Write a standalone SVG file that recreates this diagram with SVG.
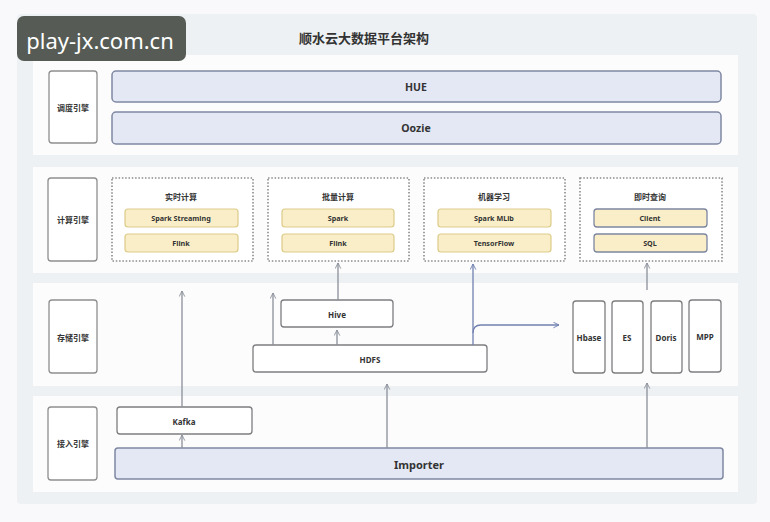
<svg xmlns="http://www.w3.org/2000/svg" width="770" height="522" viewBox="0 0 770 522">
<defs>
<style>
text{font-family:"Noto Sans","Noto Sans CJK SC",sans-serif;font-weight:bold;fill:#333;text-anchor:middle;dominant-baseline:central}
.lbl{fill:#fff;stroke:#8e8e8e;stroke-width:1.3}
.blue{fill:#e3e8f4;stroke:#7f88a3;stroke-width:1.5}
.white{fill:#fff;stroke:#7d7d80;stroke-width:1.3}
.grp{fill:#fff;stroke:#8a8a8a;stroke-width:1.6;stroke-dasharray:1.5 1.8}
.yel{fill:#f9eec8;stroke:#ddcb8a;stroke-width:1.2}
.yelb{fill:#f9eec8;stroke:#7d86a0;stroke-width:1.3}
.band{fill:#fcfcfd}
.s8{font-size:8px}
.s7{font-size:7.2px}
.conn line,.conn path{stroke:#8a8f99;stroke-width:1.3;fill:none;marker-end:url(#ah)}
.conn .bl{stroke:#7080b0;marker-end:url(#ahb)}
</style>
<marker id="ah" viewBox="0 0 10 10" refX="9" refY="5" markerWidth="7" markerHeight="7" orient="auto" markerUnits="userSpaceOnUse"><path d="M1,1 L9,5 L1,9" fill="none" stroke="#8a8f99" stroke-width="1.3"/></marker>
<marker id="ahb" viewBox="0 0 10 10" refX="9" refY="5" markerWidth="7" markerHeight="7" orient="auto" markerUnits="userSpaceOnUse"><path d="M1,1 L9,5 L1,9" fill="none" stroke="#7080b0" stroke-width="1.3"/></marker>
</defs>
<rect width="770" height="522" fill="#f9f9fb"/>
<rect x="17" y="14" width="740" height="490" rx="4" fill="#eef1f4"/>
<rect class="band" x="33" y="55" width="705" height="100"/>
<rect class="band" x="33" y="167" width="705" height="106"/>
<rect class="band" x="33" y="283" width="705" height="103"/>
<rect class="band" x="33" y="396" width="705" height="96"/>

<text x="364" y="38" style="font-size:13px">顺水云大数据平台架构</text>

<g id="label-schedule"><rect class="lbl" x="49" y="71" width="48" height="72" rx="3"/><text class="s8" x="73" y="107">调度引擎</text></g>
<g id="label-compute"><rect class="lbl" x="48" y="178" width="49" height="83" rx="3"/><text class="s8" x="73" y="219">计算引擎</text></g>
<g id="label-storage"><rect class="lbl" x="49" y="300" width="48" height="73" rx="3"/><text class="s8" x="73" y="337">存储引擎</text></g>
<g id="label-ingest"><rect class="lbl" x="48" y="407" width="49" height="73" rx="3"/><text class="s8" x="73" y="443">接入引擎</text></g>

<g id="hue"><rect class="blue" x="112" y="71" width="609" height="31" rx="4"/><text x="416" y="87" style="font-size:10.5px">HUE</text></g>
<g id="oozie"><rect class="blue" x="112" y="112" width="609" height="32" rx="4"/><text x="416" y="128" style="font-size:10.5px">Oozie</text></g>

<g id="realtime"><rect class="grp" x="112" y="178" width="141" height="83"/><text class="s8" x="181" y="196">实时计算</text>
<rect class="yel" x="125" y="209" width="113" height="18" rx="3"/><text class="s7" x="181" y="218">Spark Streaming</text>
<rect class="yel" x="125" y="234" width="113" height="18" rx="3"/><text class="s7" x="181" y="243">Flink</text></g>

<g id="batch"><rect class="grp" x="268" y="178" width="141" height="83"/><text class="s8" x="338" y="196">批量计算</text>
<rect class="yel" x="282" y="209" width="112" height="18" rx="3"/><text class="s7" x="338" y="218">Spark</text>
<rect class="yel" x="282" y="234" width="112" height="18" rx="3"/><text class="s7" x="338" y="243">Flink</text></g>

<g id="ml"><rect class="grp" x="424" y="178" width="141" height="83"/><text class="s8" x="494" y="196">机器学习</text>
<rect class="yel" x="438" y="209" width="113" height="18" rx="3"/><text class="s7" x="494" y="218">Spark MLib</text>
<rect class="yel" x="438" y="234" width="113" height="18" rx="3"/><text class="s7" x="494" y="243">TensorFlow</text></g>

<g id="query"><rect class="grp" x="580" y="178" width="142" height="83"/><text class="s8" x="650" y="196">即时查询</text>
<rect class="yelb" x="594" y="209" width="113" height="18" rx="3"/><text class="s7" x="650" y="218">Client</text>
<rect class="yelb" x="594" y="234" width="113" height="18" rx="3"/><text class="s7" x="650" y="243">SQL</text></g>

<g id="hive"><rect class="white" x="281" y="300" width="112" height="27" rx="3"/><text class="s8" x="337" y="314">Hive</text></g>
<g id="hdfs"><rect class="white" x="253" y="345" width="234" height="27" rx="3"/><text class="s8" x="370" y="359">HDFS</text></g>
<g id="hbase"><rect class="white" x="573" y="301" width="32" height="72" rx="3"/><text class="s8" x="589" y="337">Hbase</text></g>
<g id="es"><rect class="white" x="612" y="301" width="31" height="72" rx="3"/><text class="s8" x="627" y="337">ES</text></g>
<g id="doris"><rect class="white" x="651" y="301" width="31" height="72" rx="3"/><text class="s8" x="666" y="337">Doris</text></g>
<g id="mpp"><rect class="white" x="689" y="300" width="32" height="72" rx="3"/><text class="s8" x="705" y="336">MPP</text></g>

<g id="kafka"><rect class="white" x="117" y="407" width="135" height="27" rx="3"/><text class="s8" x="184" y="421">Kafka</text></g>
<g id="importer"><rect class="blue" x="115" y="448" width="608" height="31" rx="3"/><text x="419" y="464" style="font-size:11px">Importer</text></g>

<g id="connectors" class="conn">
<line x1="182" y1="448" x2="182" y2="435"/>
<line x1="182" y1="407" x2="182" y2="291"/>
<line x1="387" y1="448" x2="387" y2="384"/>
<line x1="647" y1="448" x2="647" y2="383"/>
<line x1="337" y1="345" x2="337" y2="330"/>
<line x1="273" y1="345" x2="273" y2="293"/>
<line x1="338" y1="300" x2="338" y2="263"/>
<line class="bl" x1="473" y1="345" x2="473" y2="264"/>
<path class="bl" d="M473,333 Q473,325 481,325 L559,325"/>
<line x1="647" y1="290" x2="647" y2="263"/>
</g>

<g id="watermark"><rect x="17" y="16" width="169" height="45" rx="7" fill="#565c55"/><text x="100" y="40" style="font-size:22px;font-weight:normal;fill:#fff">play-jx.com.cn</text></g>
</svg>
